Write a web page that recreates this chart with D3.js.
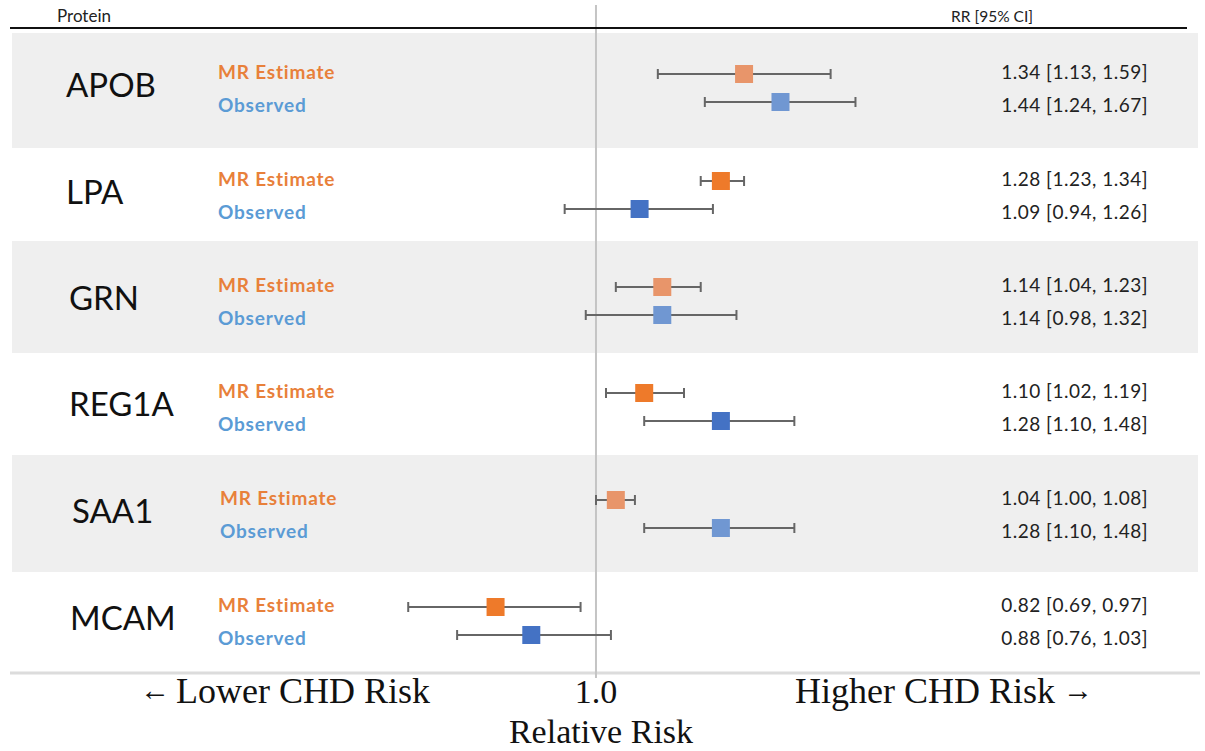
<!DOCTYPE html>
<html><head><meta charset="utf-8">
<script src="https://cdn.jsdelivr.net/npm/d3@7"></script>
<style>body{margin:0;background:#fff}svg{display:block}</style>
</head><body>
<svg id="c" width="1205" height="751"></svg>
<script>
const proteins = ["APOB","LPA","GRN","REG1A","SAA1","MCAM"];
const seriesNames = ["MR Estimate","Observed"];
const mrEst  = [1.34, 1.28, 1.14, 1.10, 1.04, 0.82];
const mrLow  = [1.13, 1.23, 1.04, 1.02, 1.00, 0.69];
const mrHigh = [1.59, 1.34, 1.23, 1.19, 1.08, 0.97];
const obsEst  = [1.44, 1.09, 1.14, 1.28, 1.28, 0.88];
const obsLow  = [1.24, 0.94, 0.98, 1.10, 1.10, 0.76];
const obsHigh = [1.67, 1.26, 1.32, 1.48, 1.48, 1.03];
const shaded = [true, false, true, false, true, false];
const arrows = ["\u2190", "\u2192"];
const axisLabels = ["Lower CHD Risk", "1.0", "Higher CHD Risk"];
const axisTitle = "Relative Risk";

const svg = d3.select("#c");
const x = d3.scaleLog().domain([0.6, 1.8]).range([337.5, 893.4]);
const rowTops = [33, 150, 241, 353, 455, 573];
const rowBottoms = [148, 240, 353, 453, 572, 671];
const nameX = [66, 66, 69, 69, 72, 70];
const labelX = [218, 218, 218, 218, 220, 218];

const fmt = d3.format(".2f");
const sans = "Lato, 'Open Sans', sans-serif";

proteins.forEach((p,i)=>{
  if (shaded[i]) svg.append("rect").attr("x",12).attr("y",rowTops[i]).attr("width",1186)
    .attr("height",rowBottoms[i]-rowTops[i]).attr("fill","#efefef");
});
svg.append("line").attr("x1",10).attr("x2",1200).attr("y1",673).attr("y2",673)
  .attr("stroke","#dcdcdc").attr("stroke-width",3);
svg.append("line").attr("x1",x(1)).attr("x2",x(1)).attr("y1",5).attr("y2",678)
  .attr("stroke","#c4c4c4").attr("stroke-width",2);
svg.append("line").attr("x1",10).attr("x2",1187).attr("y1",28).attr("y2",28)
  .attr("stroke","#111").attr("stroke-width",2);
svg.append("text").attr("x",57).attr("y",22).attr("font-family",sans).attr("font-size",17)
  .attr("fill","#222").text("Protein");
svg.append("text").attr("x",1033).attr("y",22).attr("text-anchor","end").attr("font-family",sans)
  .attr("font-size",15.5).attr("fill","#222").text("RR [95% CI]");

const rowCenterMR = [74, 181, 287, 393, 500, 607];
const offset = 28;
const series = [
  {name: seriesNames[0], est: mrEst, lo: mrLow, hi: mrHigh, dy: 0, ty: -2,
   text: "#e8803a", dark: "#ee7a2a", light: "#e8956a"},
  {name: seriesNames[1], est: obsEst, lo: obsLow, hi: obsHigh, dy: offset, ty: 31,
   text: "#5b9bd5", dark: "#4472c4", light: "#7097d2"}
];

proteins.forEach((p,i)=>{
  const yc = rowCenterMR[i] + offset/2;
  svg.append("text").attr("x",nameX[i]).attr("y",yc+9).attr("font-family",sans)
    .attr("font-size",33).attr("fill","#111").text(p);
  series.forEach(s=>{
    const y = rowCenterMR[i] + s.dy;
    const ty = rowCenterMR[i] + s.ty;
    svg.append("text").attr("x",labelX[i]).attr("y",ty+7).attr("font-family",sans)
      .attr("font-weight","bold").attr("font-size",19).attr("letter-spacing",0.8)
      .attr("fill",s.text).text(s.name);
    const g = svg.append("g").attr("stroke","#666").attr("stroke-width",2);
    g.append("line").attr("x1",x(s.lo[i])).attr("x2",x(s.hi[i])).attr("y1",y).attr("y2",y);
    g.append("line").attr("x1",x(s.lo[i])).attr("x2",x(s.lo[i])).attr("y1",y-5).attr("y2",y+5);
    g.append("line").attr("x1",x(s.hi[i])).attr("x2",x(s.hi[i])).attr("y1",y-5).attr("y2",y+5);
    svg.append("rect").attr("x",x(s.est[i])-9).attr("y",y-9).attr("width",18).attr("height",18)
      .attr("fill", shaded[i] ? s.light : s.dark);
    svg.append("text").attr("x",1148).attr("y",ty+7).attr("text-anchor","end")
      .attr("font-family",sans).attr("font-size",19).attr("letter-spacing",0.5).attr("fill","#222")
      .text(`${fmt(s.est[i])} [${fmt(s.lo[i])}, ${fmt(s.hi[i])}]`);
  });
});

const serif = "'Liberation Serif', 'DejaVu Serif', serif";
const lower = svg.append("text").attr("x",140).attr("y",703).attr("font-family",serif)
  .attr("font-size",36).attr("fill","#111");
lower.append("tspan").attr("font-size",30).attr("dy",-3).text(arrows[0]);
lower.append("tspan").attr("dx",6).attr("dy",3).text(axisLabels[0]);
svg.append("text").attr("x",x(1)).attr("y",703).attr("text-anchor","middle").attr("font-family",serif)
  .attr("font-size",34).attr("fill","#111").text(axisLabels[1]);
const higher = svg.append("text").attr("x",795).attr("y",703).attr("font-family",serif)
  .attr("font-size",36).attr("fill","#111");
higher.append("tspan").text(axisLabels[2]);
higher.append("tspan").attr("dx",8).attr("dy",-3).attr("font-size",30).text(arrows[1]);
svg.append("text").attr("x",601).attr("y",743).attr("text-anchor","middle").attr("font-family",serif)
  .attr("font-size",34).attr("fill","#111").text(axisTitle);
</script>
</body></html>
